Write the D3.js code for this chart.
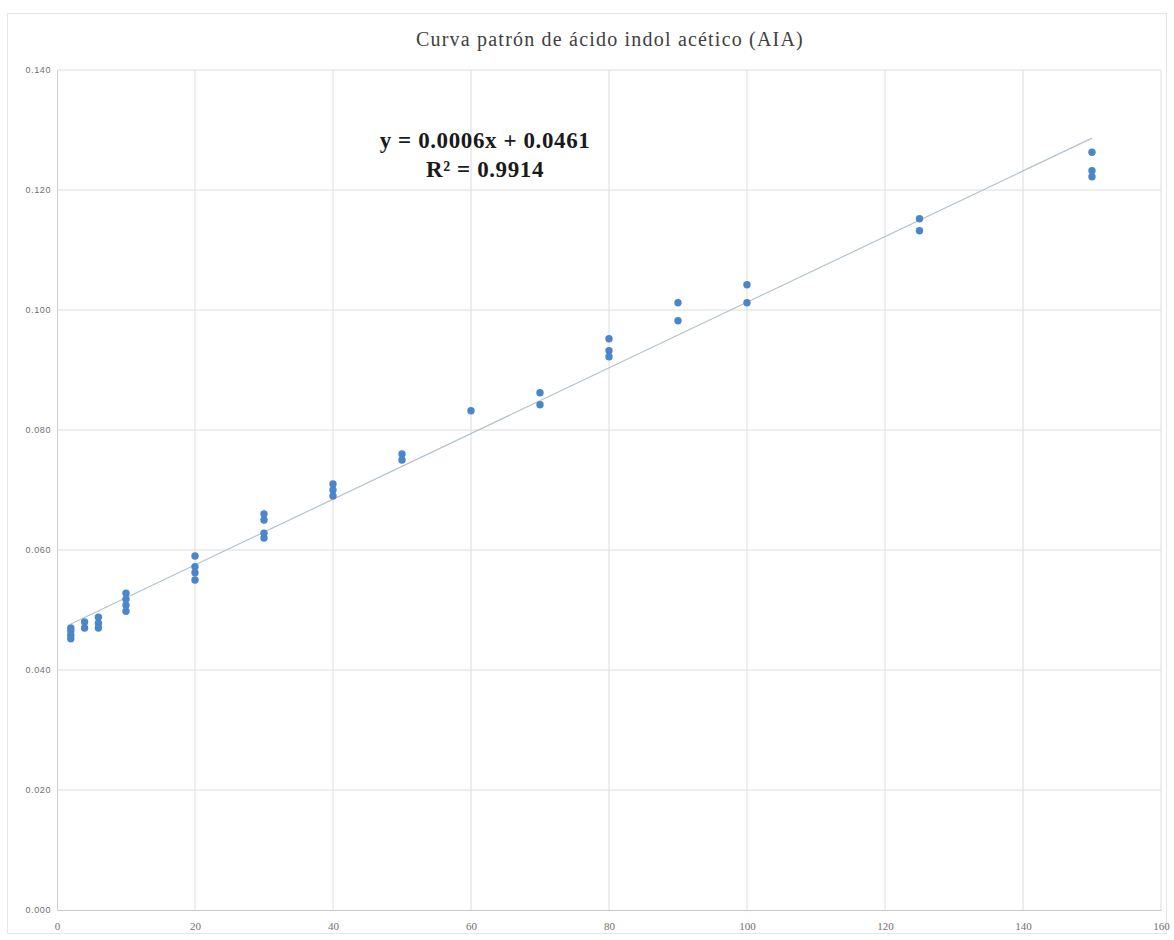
<!DOCTYPE html>
<html>
<head>
<meta charset="utf-8">
<script src="https://cdn.jsdelivr.net/npm/d3@7"></script>
<style>
  html, body { margin: 0; padding: 0; background: #ffffff; }
  svg { display: block; }
</style>
</head>
<body>
<svg id="chart" width="1174" height="940"></svg>
<script>
// Concentración de AIA (µg/mL) y absorbancia de cada réplica
const concentrations = [2, 2, 2, 2, 4, 4, 6, 6, 6, 10, 10, 10, 10, 20, 20, 20, 20,
  30, 30, 30, 30, 40, 40, 40, 50, 50, 60, 70, 70, 80, 80, 80, 90, 90, 100, 100,
  125, 125, 150, 150, 150];
const absorbances = [0.0470, 0.0465, 0.0458, 0.0452, 0.0480, 0.0470, 0.0488, 0.0478, 0.0470,
  0.0528, 0.0518, 0.0508, 0.0498, 0.0590, 0.0572, 0.0562, 0.0550,
  0.0660, 0.0650, 0.0628, 0.0620, 0.0710, 0.0700, 0.0690, 0.0760, 0.0750,
  0.0832, 0.0862, 0.0842, 0.0952, 0.0932, 0.0922, 0.1012, 0.0982, 0.1042, 0.1012,
  0.1152, 0.1132, 0.1263, 0.1232, 0.1222];

const xTicks = [0, 20, 40, 60, 80, 100, 120, 140, 160];
const yTicks = [0, 0.02, 0.04, 0.06, 0.08, 0.10, 0.12, 0.14];

const titleText = "Curva patrón de ácido indol acético (AIA)";
const equationText = "y = 0.0006x + 0.0461";
const r2Text = "R² = 0.9914";

const points = concentrations.map((c, i) => ({ x: c, y: absorbances[i] }));

const svg = d3.select("#chart");
const W = 1174, H = 940;
const margin = { left: 57, right: 13, top: 70, bottom: 30 };

// Marco exterior del gráfico
svg.append("rect")
  .attr("x", 7.5).attr("y", 13.5)
  .attr("width", W - 15).attr("height", H - 20)
  .attr("fill", "#ffffff")
  .attr("stroke", "#e6e6e6");

const x = d3.scaleLinear().domain([0, 160]).range([margin.left, W - margin.right]);
const y = d3.scaleLinear().domain([0, 0.14]).range([H - margin.bottom, margin.top]);

// Cuadrícula
svg.append("g").selectAll("line.v")
  .data(xTicks.slice(1))
  .join("line")
  .attr("x1", d => x(d)).attr("x2", d => x(d))
  .attr("y1", y(0)).attr("y2", y(0.14))
  .attr("stroke", "#dcdcdc").attr("stroke-width", 1);

svg.append("g").selectAll("line.h")
  .data(yTicks.slice(1))
  .join("line")
  .attr("x1", x(0)).attr("x2", x(160))
  .attr("y1", d => y(d)).attr("y2", d => y(d))
  .attr("stroke", "#dcdcdc").attr("stroke-width", 1);

// Ejes
const xAxis = svg.append("g")
  .attr("transform", `translate(0,${y(0)})`)
  .call(d3.axisBottom(x).tickValues(xTicks).tickSize(0).tickPadding(12).tickFormat(d3.format("d")));
xAxis.select(".domain").attr("stroke", "#c8c8c8");
xAxis.selectAll("text")
  .attr("fill", "#6f6f6f")
  .style("font-family", "'Liberation Serif', serif")
  .style("font-size", "11px");

const yAxis = svg.append("g")
  .attr("transform", `translate(${x(0)},0)`)
  .call(d3.axisLeft(y).tickValues(yTicks).tickSize(0).tickPadding(6).tickFormat(d3.format(".3f")));
yAxis.select(".domain").attr("stroke", "#d0d0d0");
yAxis.selectAll("text")
  .attr("fill", "#6f6f6f")
  .style("font-family", "'Liberation Sans', sans-serif")
  .style("font-size", "9px")
  .style("letter-spacing", "0.6px");

// Recta de regresión por mínimos cuadrados
const mx = d3.mean(points, d => d.x), my = d3.mean(points, d => d.y);
const slope = d3.sum(points, d => (d.x - mx) * (d.y - my)) / d3.sum(points, d => (d.x - mx) ** 2);
const intercept = my - slope * mx;
const xExt = d3.extent(concentrations);
svg.append("line")
  .attr("x1", x(xExt[0])).attr("y1", y(intercept + slope * xExt[0]))
  .attr("x2", x(xExt[1])).attr("y2", y(intercept + slope * xExt[1]))
  .attr("stroke", "#b3c2cc").attr("stroke-width", 1.2);

// Puntos
svg.append("g").selectAll("circle")
  .data(points)
  .join("circle")
  .attr("cx", d => x(d.x)).attr("cy", d => y(d.y))
  .attr("r", 3.7)
  .attr("fill", "#4a86c9");

// Título
svg.append("text")
  .attr("x", 610).attr("y", 46)
  .attr("text-anchor", "middle")
  .attr("fill", "#404040")
  .style("font-family", "'Liberation Serif', serif")
  .style("font-size", "20px")
  .style("letter-spacing", "1.2px")
  .text(titleText);

// Ecuación y coeficiente de determinación
const eqStyle = sel => sel
  .attr("text-anchor", "middle")
  .attr("fill", "#1a1a1a")
  .style("font-family", "'Liberation Serif', serif")
  .style("font-weight", "bold")
  .style("font-size", "23px")
  .style("letter-spacing", "0.6px");
svg.append("text").attr("x", 485).attr("y", 148).call(eqStyle).text(equationText);
svg.append("text").attr("x", 485).attr("y", 177).call(eqStyle).text(r2Text);
</script>
</body>
</html>
